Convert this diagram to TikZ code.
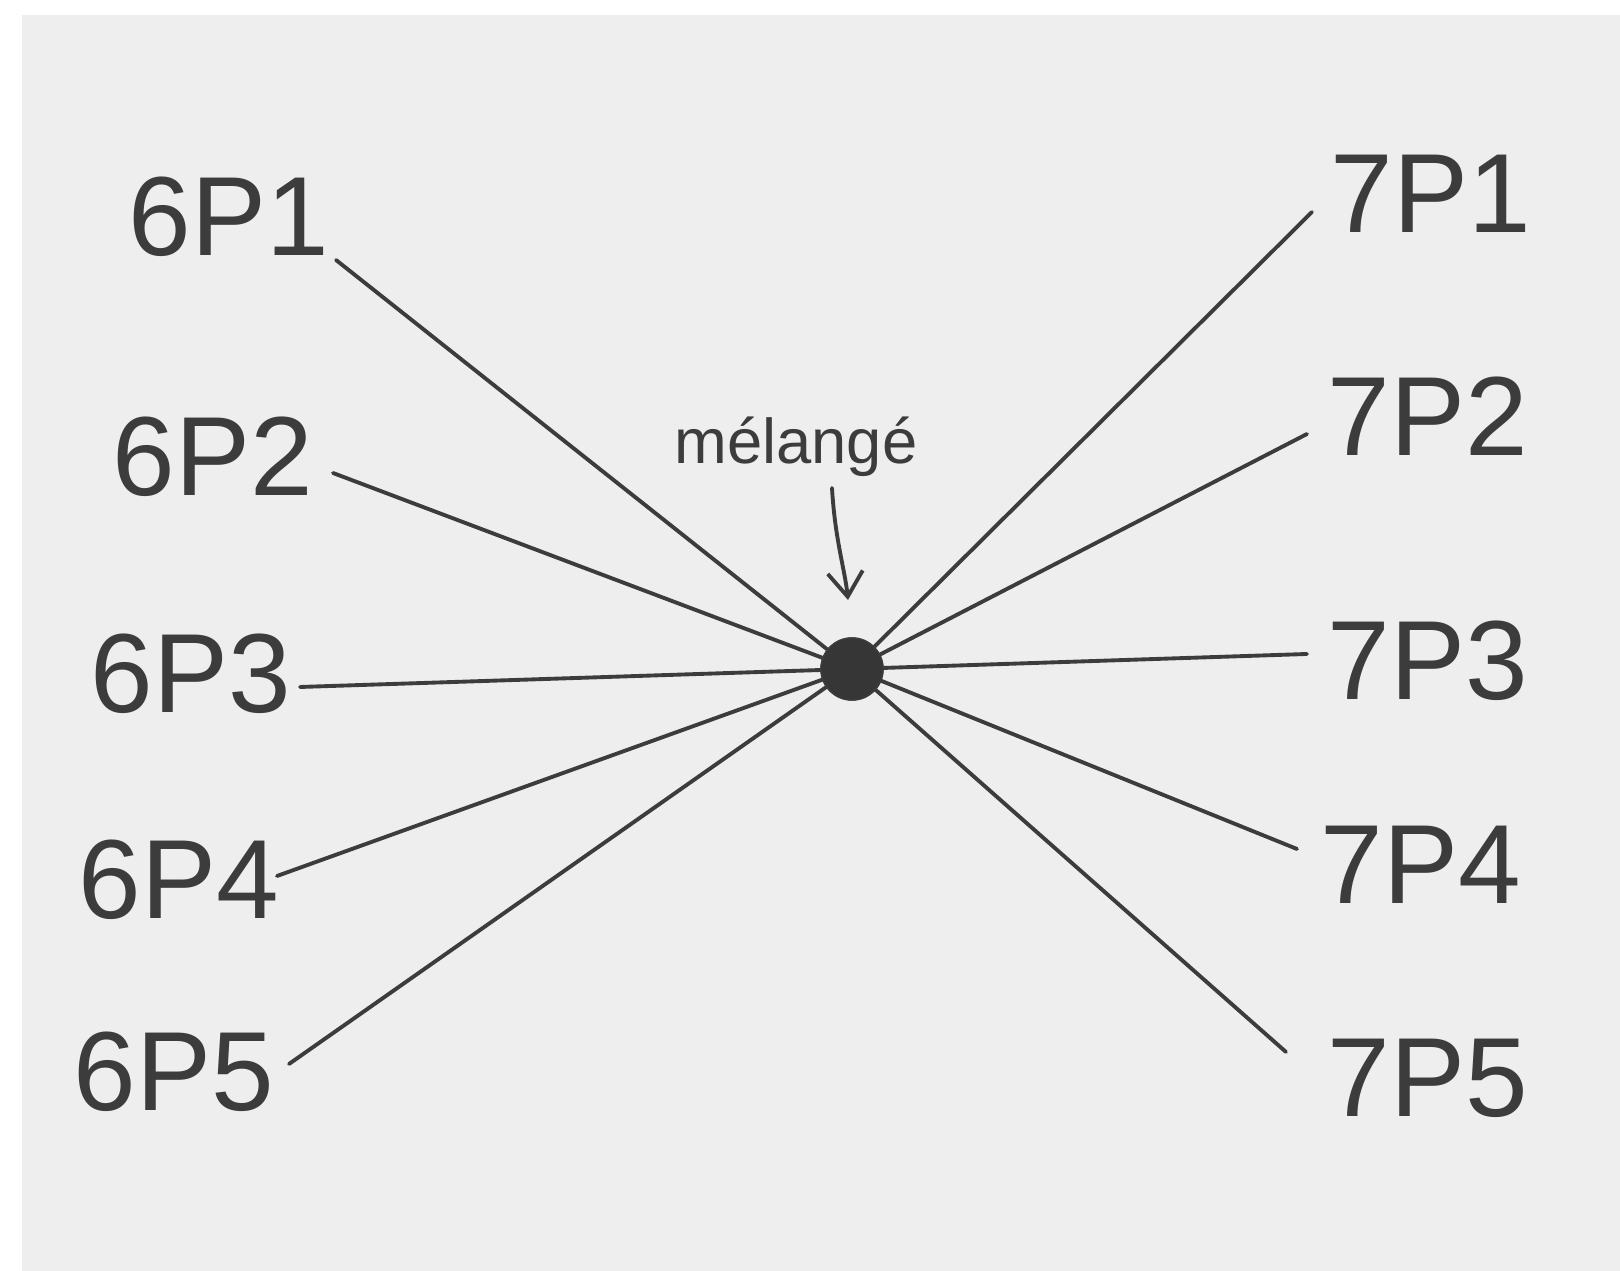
\documentclass[tikz,border=0pt]{standalone}
\usepackage{fontspec}
\setmainfont{Liberation Sans}
\usetikzlibrary{arrows.meta}
\definecolor{paper}{HTML}{EEEEEE}
\definecolor{ink}{HTML}{3C3C3C}
\begin{document}
\begin{tikzpicture}[x=0.01cm,y=-0.01cm,
  lbl/.style={text=ink,font=\fontsize{32}{36}\selectfont,inner sep=0pt},
  note/.style={text=ink,font=\fontsize{18}{22}\selectfont,inner sep=0pt},
  ray/.style={draw=ink,line width=1.1pt,line cap=round},
  hub/.style={circle,fill=ink!90!black,draw=ink,minimum size=0.62cm,inner sep=0pt}]
\fill[white] (0,0) rectangle (1620,1271);
\fill[paper] (22,15) rectangle (1620,1271);
\useasboundingbox (0,0) rectangle (1620,1271);
% hub
\node[hub] (c) at (852,669) {};
% labels
\node[lbl] (l1) at (229,217) {6P1};
\node[lbl] (l2) at (213,457) {6P2};
\node[lbl] (l3) at (191,674) {6P3};
\node[lbl] (l4) at (179,880) {6P4};
\node[lbl] (l5) at (174,1072) {6P5};
\node[lbl] (r1) at (1431,194) {7P1};
\node[lbl] (r2) at (1428,416) {7P2};
\node[lbl] (r3) at (1428,661) {7P3};
\node[lbl] (r4) at (1421,865) {7P4};
\node[lbl] (r5) at (1428,1078) {7P5};
\node[note] (m) at (796,447) {mélangé};
% ray ends
\coordinate (a1) at (336,260);
\coordinate (a2) at (333,473);
\coordinate (a3) at (300,687);
\coordinate (a4) at (277,876);
\coordinate (a5) at (289,1064);
\coordinate (b1) at (1312,212);
\coordinate (b2) at (1307,434);
\coordinate (b3) at (1307,654);
\coordinate (b4) at (1297,849);
\coordinate (b5) at (1286,1052);
\foreach \p in {a1,a2,a3,a4,a5,b1,b2,b3,b4,b5}
  \draw[ray] (\p) -- (c.center);
\node[hub] at (c) {};
% arrow
\coordinate (m1) at (832,488);
\coordinate (m2) at (848,600);
\draw[ray,-{Straight Barb[length=7pt,width=10pt]}] (m1) .. controls (835,540) and (845,570) .. (m2);
\end{tikzpicture}
\end{document}
